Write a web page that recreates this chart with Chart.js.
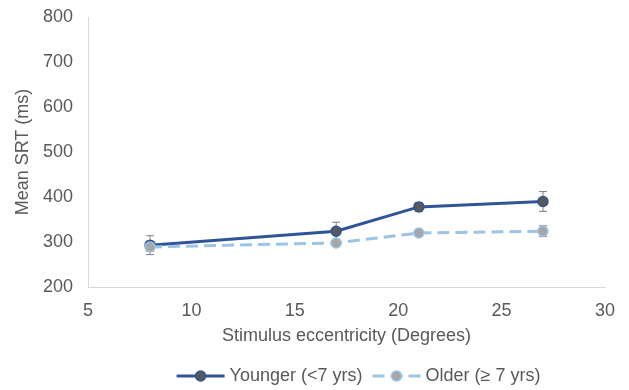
<!DOCTYPE html>
<html>
<head>
<meta charset="utf-8">
<script src="https://cdn.jsdelivr.net/npm/chart.js@4/dist/chart.umd.min.js"></script>
<style>
  html, body { margin: 0; padding: 0; background: #ffffff; }
  #wrap { width: 629px; height: 390px; }
</style>
</head>
<body>
<div id="wrap"><canvas id="c" width="629" height="390"></canvas></div>
<script>
// Mean saccadic reaction time by stimulus eccentricity, split by age group
const eccentricity = [8, 17, 21, 27];
const youngerSRT = [293, 324, 378, 390];
const youngerErr = [21, 20, 10, 22];
const olderSRT = [289, 298, 320, 324];
const olderErr = [10, 4, 4, 12];
const xTicks = [5, 10, 15, 20, 25, 30];
const yTicks = [200, 300, 400, 500, 600, 700, 800];
const seriesNames = ['Younger (<7 yrs)', 'Older (\u2265 7 yrs)'];

const FONT = 'Liberation Sans, Arial, sans-serif';
const FONT_SIZE = 18;
const TEXT = '#595959';
const AXIS = '#d9d9d9';

const younger = {
  label: seriesNames[0],
  data: eccentricity.map((x, i) => ({ x, y: youngerSRT[i] })),
  err: youngerErr,
  borderColor: '#2f5597',
  backgroundColor: '#595959',
  borderWidth: 3,
  pointRadius: 5,
  pointBorderWidth: 1.5,
  pointBorderColor: '#2f5597',
  pointBackgroundColor: '#595959',
  tension: 0,
  order: 1
};
const older = {
  label: seriesNames[1],
  data: eccentricity.map((x, i) => ({ x, y: olderSRT[i] })),
  err: olderErr,
  borderColor: '#9dc3e6',
  backgroundColor: '#a6a6a6',
  borderWidth: 3,
  borderDash: [12, 6],
  pointRadius: 5,
  pointBorderWidth: 1.5,
  pointBorderColor: '#9dc3e6',
  pointBackgroundColor: '#a6a6a6',
  tension: 0,
  order: 0
};

// Error bars drawn beneath the markers
const errorBars = {
  id: 'errorBars',
  beforeDatasetsDraw(chart) {
    const { ctx, scales: { x, y } } = chart;
    ctx.save();
    ctx.strokeStyle = '#7f7f7f';
    ctx.lineWidth = 1;
    chart.data.datasets.forEach(ds => {
      ds.data.forEach((p, i) => {
        const e = ds.err[i];
        const px = x.getPixelForValue(p.x);
        const top = y.getPixelForValue(p.y + e);
        const bot = y.getPixelForValue(p.y - e);
        const cap = 4;
        ctx.beginPath();
        ctx.moveTo(px, top); ctx.lineTo(px, bot);
        ctx.moveTo(px - cap, top); ctx.lineTo(px + cap, top);
        ctx.moveTo(px - cap, bot); ctx.lineTo(px + cap, bot);
        ctx.stroke();
      });
    });
    ctx.restore();
  }
};

// Legend: line sample with a marker in its middle, followed by the label
const lineLegend = {
  id: 'lineLegend',
  afterDraw(chart) {
    const { ctx, chartArea } = chart;
    const sampleLen = 48, textGap = 5, itemGap = 10;
    const cy = 376;
    ctx.save();
    ctx.font = FONT_SIZE + 'px ' + FONT;
    ctx.textBaseline = 'middle';
    const items = chart.data.datasets.map(ds => ({ ds, w: ctx.measureText(ds.label).width }));
    const total = items.reduce((s, it) => s + sampleLen + textGap + it.w, 0) + itemGap * (items.length - 1);
    let cx = (chartArea.left + chartArea.right) / 2 + 12 - total / 2;
    items.forEach(({ ds, w }) => {
      ctx.strokeStyle = ds.borderColor;
      ctx.lineWidth = ds.borderWidth;
      ctx.setLineDash(ds.borderDash || []);
      ctx.beginPath();
      ctx.moveTo(cx, cy); ctx.lineTo(cx + sampleLen, cy);
      ctx.stroke();
      ctx.setLineDash([]);
      ctx.beginPath();
      ctx.arc(cx + sampleLen / 2, cy, ds.pointRadius, 0, Math.PI * 2);
      ctx.fillStyle = ds.pointBackgroundColor;
      ctx.fill();
      ctx.lineWidth = ds.pointBorderWidth;
      ctx.strokeStyle = ds.pointBorderColor;
      ctx.stroke();
      ctx.fillStyle = TEXT;
      ctx.textAlign = 'left';
      ctx.fillText(ds.label, cx + sampleLen + textGap, cy);
      cx += sampleLen + textGap + w + itemGap;
    });
    ctx.restore();
  }
};

new Chart(document.getElementById('c'), {
  type: 'line',
  data: { datasets: [younger, older] },
  plugins: [errorBars, lineLegend],
  options: {
    responsive: false,
    animation: false,
    devicePixelRatio: 1,
    layout: { padding: { top: 17, right: 24, bottom: 30, left: 0 } },
    plugins: { legend: { display: false }, tooltip: { enabled: false } },
    scales: {
      x: {
        type: 'linear',
        min: xTicks[0],
        max: xTicks[xTicks.length - 1],
        afterBuildTicks(scale) { scale.ticks = xTicks.map(v => ({ value: v })); },
        afterFit(scale) {
          scale.height = 73;
          scale.paddingLeft = 0;
          scale.paddingRight = 0;
        },
        grid: { display: false, drawTicks: false },
        border: { display: true, color: AXIS, width: 1 },
        ticks: { color: TEXT, font: { family: FONT, size: FONT_SIZE }, padding: 13, maxRotation: 0 },
        title: {
          display: true,
          text: 'Stimulus eccentricity (Degrees)',
          color: TEXT,
          font: { family: FONT, size: FONT_SIZE },
          padding: { top: 0, bottom: 13 }
        }
      },
      y: {
        type: 'linear',
        min: yTicks[0],
        max: yTicks[yTicks.length - 1],
        afterBuildTicks(scale) { scale.ticks = yTicks.map(v => ({ value: v })); },
        afterFit(scale) {
          scale.width = 88;
          scale.paddingTop = 0;
          scale.paddingBottom = 0;
        },
        grid: { display: false, drawTicks: false },
        border: { display: true, color: AXIS, width: 1 },
        ticks: { color: TEXT, font: { family: FONT, size: FONT_SIZE }, padding: 15 },
        title: {
          display: true,
          text: 'Mean SRT (ms)',
          color: TEXT,
          font: { family: FONT, size: FONT_SIZE },
          padding: { top: 12, bottom: 0 }
        }
      }
    }
  }
});
</script>
</body>
</html>
